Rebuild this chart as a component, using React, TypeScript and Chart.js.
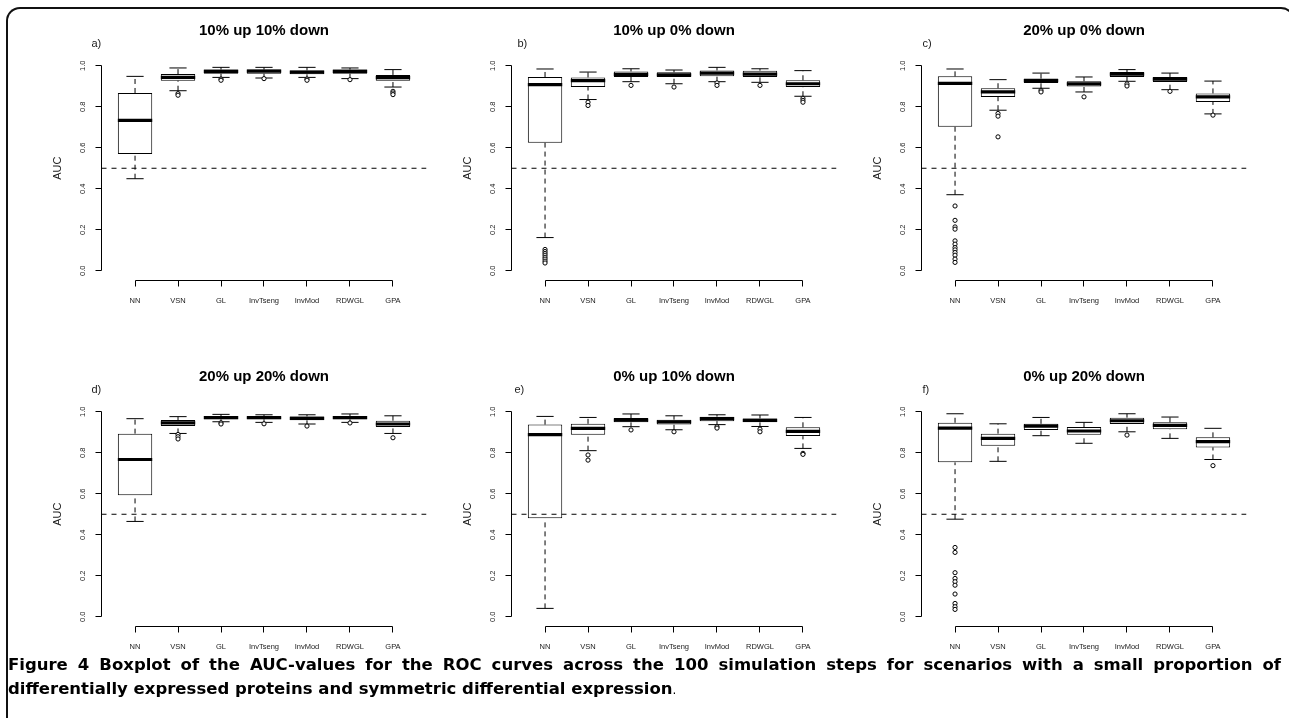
import React, { useEffect, useRef } from "react";
import { Chart, registerables } from "chart.js";

Chart.register(...registerables);

const CATEGORIES = ["NN", "VSN", "GL", "InvTseng", "InvMod", "RDWGL", "GPA"];
const Y_TICKS = [0, 0.2, 0.4, 0.6, 0.8, 1.0];
const Y_TICK_LABELS = ["0.0", "0.2", "0.4", "0.6", "0.8", "1.0"];
const REFERENCE_LINE = 0.5;
const PANEL_TITLES = [
  "10% up 10% down",
  "10% up 0% down",
  "20% up 0% down",
  "20% up 20% down",
  "0% up 10% down",
  "0% up 20% down",
];
const PANEL_LETTERS = ["a)", "b)", "c)", "d)", "e)", "f)"];
const Y_LABEL = "AUC";
const CAPTION_LINE_1 =
  "Figure 4 Boxplot of the AUC-values for the ROC curves across the 100 simulation steps for scenarios with a small proportion of";
const CAPTION_LINE_2 = "differentially expressed proteins and symmetric differential expression";

// Panel a
const A_LOW = [0.449, 0.878, 0.943, 0.94, 0.943, 0.937, 0.896];
const A_Q1 = [0.57, 0.927, 0.961, 0.961, 0.958, 0.961, 0.927];
const A_MED = [0.733, 0.943, 0.972, 0.974, 0.969, 0.972, 0.942];
const A_Q3 = [0.867, 0.959, 0.981, 0.981, 0.977, 0.981, 0.955];
const A_HIGH = [0.948, 0.989, 0.992, 0.992, 0.992, 0.989, 0.981];
const A_OUT = [[], [0.864, 0.856], [0.935, 0.929], [0.937], [0.935, 0.929], [0.932], [0.875, 0.867, 0.859]];

// Panel b
const B_LOW = [0.162, 0.835, 0.922, 0.912, 0.922, 0.919, 0.851];
const B_Q1 = [0.624, 0.896, 0.945, 0.945, 0.948, 0.945, 0.896];
const B_MED = [0.908, 0.927, 0.958, 0.955, 0.964, 0.959, 0.912];
const B_Q3 = [0.945, 0.943, 0.972, 0.968, 0.977, 0.976, 0.929];
const B_HIGH = [0.984, 0.969, 0.985, 0.979, 0.992, 0.985, 0.976];
const B_OUT = [
  [0.104, 0.094, 0.085, 0.076, 0.066, 0.057, 0.047, 0.038],
  [0.822, 0.806],
  [0.904],
  [0.896],
  [0.916, 0.904],
  [0.904],
  [0.841, 0.831, 0.822],
];

// Panel c
const C_LOW = [0.371, 0.783, 0.89, 0.872, 0.924, 0.883, 0.765];
const C_Q1 = [0.702, 0.848, 0.916, 0.899, 0.945, 0.921, 0.823];
const C_MED = [0.914, 0.872, 0.927, 0.911, 0.959, 0.935, 0.848];
const C_Q3 = [0.948, 0.89, 0.937, 0.924, 0.969, 0.945, 0.865];
const C_HIGH = [0.984, 0.932, 0.964, 0.945, 0.981, 0.964, 0.925];
const C_OUT = [
  [0.316, 0.246, 0.214, 0.203, 0.146, 0.13, 0.113, 0.102, 0.089, 0.076, 0.057, 0.041],
  [0.767, 0.754, 0.653],
  [0.88, 0.872],
  [0.848],
  [0.911, 0.901],
  [0.875],
  [0.759],
];

// Panel d
const D_LOW = [0.465, 0.894, 0.951, 0.948, 0.94, 0.948, 0.894];
const D_Q1 = [0.593, 0.93, 0.963, 0.963, 0.958, 0.963, 0.925];
const D_MED = [0.767, 0.946, 0.971, 0.971, 0.967, 0.971, 0.94];
const D_Q3 = [0.893, 0.959, 0.979, 0.977, 0.977, 0.979, 0.956];
const D_HIGH = [0.966, 0.976, 0.987, 0.985, 0.985, 0.989, 0.98];
const D_OUT = [[], [0.889, 0.878, 0.867], [0.946, 0.94], [0.941], [0.93], [0.945], [0.873]];

// Panel e
const E_LOW = [0.041, 0.81, 0.927, 0.912, 0.937, 0.928, 0.821];
const E_Q1 = [0.48, 0.888, 0.948, 0.938, 0.954, 0.948, 0.881];
const E_MED = [0.888, 0.919, 0.959, 0.95, 0.966, 0.958, 0.904];
const E_Q3 = [0.937, 0.941, 0.969, 0.961, 0.976, 0.967, 0.924];
const E_HIGH = [0.977, 0.972, 0.989, 0.98, 0.985, 0.984, 0.972];
const E_OUT = [[], [0.789, 0.764], [0.911], [0.902], [0.927, 0.92], [0.915, 0.902], [0.797, 0.792]];

// Panel f
const F_LOW = [0.476, 0.758, 0.883, 0.846, 0.902, 0.87, 0.767];
const F_Q1 = [0.753, 0.834, 0.911, 0.888, 0.94, 0.915, 0.826];
const F_MED = [0.92, 0.87, 0.93, 0.906, 0.956, 0.933, 0.854];
const F_Q3 = [0.946, 0.893, 0.941, 0.925, 0.971, 0.948, 0.875];
const F_HIGH = [0.99, 0.941, 0.972, 0.948, 0.99, 0.974, 0.919];
const F_OUT = [
  [0.338, 0.314, 0.215, 0.187, 0.171, 0.154, 0.111, 0.065, 0.049, 0.036],
  [],
  [],
  [],
  [0.886],
  [],
  [0.737],
];

const PANELS = [
  { low: A_LOW, q1: A_Q1, med: A_MED, q3: A_Q3, high: A_HIGH, out: A_OUT },
  { low: B_LOW, q1: B_Q1, med: B_MED, q3: B_Q3, high: B_HIGH, out: B_OUT },
  { low: C_LOW, q1: C_Q1, med: C_MED, q3: C_Q3, high: C_HIGH, out: C_OUT },
  { low: D_LOW, q1: D_Q1, med: D_MED, q3: D_Q3, high: D_HIGH, out: D_OUT },
  { low: E_LOW, q1: E_Q1, med: E_MED, q3: E_Q3, high: E_HIGH, out: E_OUT },
  { low: F_LOW, q1: F_Q1, med: F_MED, q3: F_Q3, high: F_HIGH, out: F_OUT },
];

// layout (pixels)
const CANVAS_W = 410;
const CANVAS_H = 300;
const PAD = { left: 69.5, top: 49.5, right: 15.5, bottom: 29 };
const LETTER_DX = [-10, 6, 1, -10, 3, 1];
const FONT = "'Liberation Sans', Arial, Helvetica, sans-serif";

const X_MIN = 0.22;
const X_MAX = CATEGORIES.length + 0.78;
const Y_MIN = -0.04;
const Y_MAX = 1.04;

const snap = (v: number) => Math.floor(v) + 0.5;

function makeAxesPlugin(panelIndex: number) {
  return {
    id: "rAxes" + panelIndex,
    afterDraw(chart: any) {
      const ctx = chart.ctx as CanvasRenderingContext2D;
      const xs = chart.scales.x;
      const ys = chart.scales.y;
      const area = chart.chartArea;
      ctx.save();
      ctx.strokeStyle = "#000";
      ctx.fillStyle = "#1a1a1a";
      ctx.lineWidth = 1;
      ctx.setLineDash([]);

      // y axis
      const ax = snap(area.left);
      ctx.beginPath();
      ctx.moveTo(ax, snap(ys.getPixelForValue(Y_TICKS[0])));
      ctx.lineTo(ax, snap(ys.getPixelForValue(Y_TICKS[Y_TICKS.length - 1])));
      Y_TICKS.forEach((t) => {
        const py = snap(ys.getPixelForValue(t));
        ctx.moveTo(ax, py);
        ctx.lineTo(ax - 6, py);
      });
      ctx.stroke();
      ctx.font = `7.5px ${FONT}`;
      ctx.textAlign = "center";
      ctx.textBaseline = "middle";
      Y_TICKS.forEach((t, i) => {
        const py = ys.getPixelForValue(t);
        ctx.save();
        ctx.translate(ax - 19, py);
        ctx.rotate(-Math.PI / 2);
        ctx.fillText(Y_TICK_LABELS[i], 0, 0);
        ctx.restore();
      });
      ctx.font = `11px ${FONT}`;
      ctx.save();
      ctx.translate(ax - 44, (ys.getPixelForValue(0) + ys.getPixelForValue(1)) / 2);
      ctx.rotate(-Math.PI / 2);
      ctx.fillText(Y_LABEL, 0, 0);
      ctx.restore();

      // x axis
      const ay = snap(area.bottom + 1);
      ctx.beginPath();
      ctx.moveTo(snap(xs.getPixelForValue(1)), ay);
      ctx.lineTo(snap(xs.getPixelForValue(CATEGORIES.length)), ay);
      CATEGORIES.forEach((_, i) => {
        const px = snap(xs.getPixelForValue(i + 1));
        ctx.moveTo(px, ay);
        ctx.lineTo(px, ay + 6);
      });
      ctx.stroke();
      ctx.font = `7.5px ${FONT}`;
      CATEGORIES.forEach((c, i) => {
        ctx.fillText(c, xs.getPixelForValue(i + 1), ay + 20.5);
      });

      // title
      ctx.fillStyle = "#000";
      ctx.font = `bold 15px ${FONT}`;
      ctx.fillText(PANEL_TITLES[panelIndex], (area.left + area.right) / 2, area.top - 27);
      ctx.font = `11px ${FONT}`;
      ctx.textAlign = "left";
      ctx.fillStyle = "#1a1a1a";
      ctx.fillText(PANEL_LETTERS[panelIndex], area.left + LETTER_DX[panelIndex], area.top - 14);
      ctx.restore();
    },
  };
}

function buildConfig(panelIndex: number): any {
  const p = PANELS[panelIndex];
  const boxes = CATEGORIES.map((_, i) => ({ x: i + 1, y: [p.q1[i], p.q3[i]] }));
  const whiskers: any[] = [];
  const caps: any[] = [];
  const medians: any[] = [];
  const outliers: any[] = [];
  CATEGORIES.forEach((_, i) => {
    const x = i + 1;
    whiskers.push({ x, y: p.low[i] }, { x, y: p.q1[i] }, { x, y: null });
    whiskers.push({ x, y: p.q3[i] }, { x, y: p.high[i] }, { x, y: null });
    caps.push({ x: x - 0.2, y: p.low[i] }, { x: x + 0.2, y: p.low[i] }, { x, y: null });
    caps.push({ x: x - 0.2, y: p.high[i] }, { x: x + 0.2, y: p.high[i] }, { x, y: null });
    medians.push({ x: x - 0.4, y: p.med[i] }, { x: x + 0.4, y: p.med[i] }, { x, y: null });
    p.out[i].forEach((v: number) => outliers.push({ x, y: v }));
  });
  const refLine = [
    { x: X_MIN, y: REFERENCE_LINE },
    { x: X_MAX, y: REFERENCE_LINE },
  ];
  const lineBase = {
    type: "line",
    pointRadius: 0,
    spanGaps: false,
    borderColor: "#000",
    fill: false,
    tension: 0,
  };
  return {
    type: "bar",
    data: {
      datasets: [
        { ...lineBase, data: medians, borderWidth: 3.2, borderCapStyle: "butt", order: 0 },
        {
          type: "line",
          data: outliers,
          showLine: false,
          pointRadius: 2.1,
          pointBorderWidth: 1,
          pointBackgroundColor: "#fff",
          pointBorderColor: "#000",
          pointStyle: "circle",
          order: 1,
        },
        { ...lineBase, data: refLine, borderWidth: 1, borderDash: [5, 5], order: 2 },
        { ...lineBase, data: caps, borderWidth: 1, order: 3 },
        { ...lineBase, data: whiskers, borderWidth: 1, borderDash: [5, 4], order: 4 },
        {
          type: "bar",
          data: boxes,
          backgroundColor: "#fff",
          borderColor: "#000",
          borderWidth: 1,
          borderSkipped: false,
          barPercentage: 0.8,
          categoryPercentage: 1,
          order: 5,
        },
      ],
    },
    options: {
      animation: false,
      responsive: false,
      events: [],
      layout: { padding: PAD },
      plugins: { legend: { display: false }, tooltip: { enabled: false }, title: { display: false } },
      scales: {
        x: { type: "linear", min: X_MIN, max: X_MAX, offset: false, display: false },
        y: { type: "linear", min: Y_MIN, max: Y_MAX, display: false },
      },
    },
    plugins: [makeAxesPlugin(panelIndex)],
  };
}

function Panel({ index }: { index: number }) {
  const ref = useRef<HTMLCanvasElement | null>(null);
  useEffect(() => {
    if (!ref.current) return;
    const chart = new Chart(ref.current, buildConfig(index));
    return () => chart.destroy();
  }, [index]);
  const col = index % 3;
  const row = Math.floor(index / 3);
  return (
    <canvas
      ref={ref}
      width={CANVAS_W}
      height={CANVAS_H}
      style={{
        position: "absolute",
        left: 32 + 410 * col,
        top: 8 + 346 * row,
        width: CANVAS_W,
        height: CANVAS_H,
      }}
    />
  );
}

const captionLine: React.CSSProperties = {
  fontFamily: "'DejaVu Sans', 'Open Sans', sans-serif",
  fontWeight: 700,
  fontSize: 16.5,
  lineHeight: "24px",
  color: "#000",
  whiteSpace: "nowrap",
};

export default function App() {
  return (
    <div
      style={{
        position: "absolute",
        left: 0,
        top: 0,
        width: 1289,
        height: 718,
        overflow: "hidden",
        background: "#fff",
      }}
    >
      <div
        style={{
          position: "absolute",
          left: 6,
          top: 7,
          width: 1289,
          height: 800,
          borderTop: "2px solid #111",
          borderLeft: "2px solid #111",
          borderRight: "2px solid #111",
          borderRadius: 14,
          boxSizing: "border-box",
        }}
      />
      {PANELS.map((_, i) => (
        <Panel key={i} index={i} />
      ))}
      <div style={{ position: "absolute", left: 8, top: 653, width: 1273 }}>
        <div style={{ ...captionLine, whiteSpace: "normal", textAlign: "justify", textAlignLast: "justify" }}>
          {CAPTION_LINE_1}
        </div>
        <div style={captionLine}>
          {CAPTION_LINE_2}
          <span style={{ fontWeight: 400, fontSize: 12 }}>.</span>
        </div>
      </div>
    </div>
  );
}
